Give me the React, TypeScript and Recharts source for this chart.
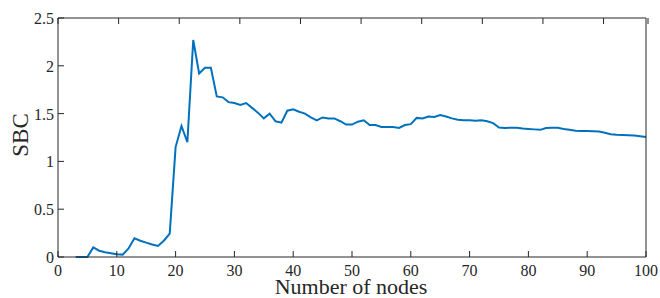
import { LineChart, Line, XAxis, YAxis } from 'recharts'

// number of nodes (x)
const nodes = [
  3, 4, 5, 6, 7, 8, 9, 10, 11, 12, 13, 14, 15, 16, 17, 18, 19, 20,
  21, 22, 23, 24, 25, 26, 27, 28, 29, 30, 31, 32, 33, 34, 35, 36, 37, 38, 39, 40,
  41, 42, 43, 44, 45, 46, 47, 48, 49, 50, 51, 52, 53, 54, 55, 56, 57, 58, 59, 60,
  61, 62, 63, 64, 65, 66, 67, 68, 69, 70, 71, 72, 73, 74, 75, 76, 77, 78, 79, 80,
  81, 82, 83, 84, 85, 86, 87, 88, 89, 90, 91, 92, 93, 94, 95, 96, 97, 98, 99, 100,
]

// SBC
const sbc = [
  0, 0, 0, 0.1, 0.066, 0.05, 0.04, 0.03, 0.025, 0.09, 0.195, 0.17, 0.15, 0.13, 0.115, 0.17, 0.245, 1.15,
  1.37, 1.2, 2.27, 1.92, 1.98, 1.98, 1.68, 1.67, 1.62, 1.61, 1.59, 1.61, 1.56, 1.51, 1.45, 1.5, 1.42, 1.405, 1.53, 1.545,
  1.52, 1.5, 1.46, 1.43, 1.46, 1.45, 1.45, 1.42, 1.385, 1.385, 1.415, 1.43, 1.38, 1.38, 1.36, 1.36, 1.36, 1.35, 1.38, 1.39,
  1.455, 1.45, 1.47, 1.465, 1.485, 1.47, 1.45, 1.435, 1.43, 1.43, 1.425, 1.43, 1.42, 1.4, 1.355, 1.35, 1.352, 1.353, 1.345, 1.34,
  1.335, 1.33, 1.35, 1.352, 1.353, 1.34, 1.33, 1.32, 1.318, 1.318, 1.315, 1.312, 1.3, 1.285, 1.278, 1.275, 1.273, 1.27, 1.262, 1.255,
]

const xTicks = [0, 10, 20, 30, 40, 50, 60, 70, 80, 90, 100]
const yTicks = [0, 0.5, 1, 1.5, 2, 2.5]

const data = nodes.map((n, i) => ({ n, sbc: sbc[i] }))

const AXIS = '#262626'
const LINE = '#0072BD'
const FONT = '"Liberation Serif", "Times New Roman", serif'

// MATLAB style: ticks point into the box
const BottomTick = ({ x, y, payload }: any) => (
  <g>
    <line x1={x} y1={y} x2={x} y2={y - 6} stroke={AXIS} />
    <text x={x} y={y + 19} textAnchor="middle" fontSize={16} fill={AXIS} fontFamily={FONT}>
      {payload.value}
    </text>
  </g>
)
const TopTick = ({ x, y }: any) => <line x1={x} y1={y} x2={x} y2={y + 6} stroke={AXIS} />
const LeftTick = ({ x, y, payload }: any) => (
  <g>
    <line x1={x} y1={y} x2={x + 6} y2={y} stroke={AXIS} />
    <text x={x - 4} y={y + 6} textAnchor="end" fontSize={16} fill={AXIS} fontFamily={FONT}>
      {payload.value}
    </text>
  </g>
)
const RightTick = ({ x, y }: any) => <line x1={x} y1={y} x2={x - 6} y2={y} stroke={AXIS} />

export default function App() {
  return (
    <div style={{ position: 'absolute', left: 0, top: 0, background: '#fff' }}>
      <LineChart width={660} height={298} data={data} margin={{ top: 0, right: 0, bottom: 0, left: 0 }}>
        <XAxis
          xAxisId="b"
          dataKey="n"
          type="number"
          domain={[0, 100]}
          ticks={xTicks}
          height={41}
          tickSize={0}
          tickMargin={0}
          tickLine={false}
          tick={<BottomTick />}
          stroke={AXIS}
          label={{
            content: () => (
              <text x={351} y={294} textAnchor="middle" fontSize={22} fill={AXIS} fontFamily={FONT}>
                Number of nodes
              </text>
            ),
          }}
        />
        <XAxis
          xAxisId="t"
          orientation="top"
          type="number"
          domain={[0, 100]}
          ticks={xTicks}
          height={18}
          tickSize={0}
          tickMargin={0}
          tickLine={false}
          tick={<TopTick />}
          stroke={AXIS}
        />
        <YAxis
          yAxisId="l"
          type="number"
          domain={[0, 2.5]}
          ticks={yTicks}
          width={58}
          tickSize={0}
          tickMargin={0}
          tickLine={false}
          tick={<LeftTick />}
          stroke={AXIS}
          label={{
            content: () => (
              <text
                x={0}
                y={0}
                transform="translate(28 135) rotate(-90)"
                textAnchor="middle"
                fontSize={23}
                fill={AXIS}
                fontFamily={FONT}
              >
                SBC
              </text>
            ),
          }}
        />
        <YAxis
          yAxisId="r"
          orientation="right"
          type="number"
          domain={[0, 2.5]}
          ticks={yTicks}
          width={14}
          tickSize={0}
          tickMargin={0}
          tickLine={false}
          tick={<RightTick />}
          stroke={AXIS}
        />
        <Line
          xAxisId="b"
          yAxisId="l"
          type="linear"
          dataKey="sbc"
          stroke={LINE}
          strokeWidth={2}
          dot={false}
          isAnimationActive={false}
        />
      </LineChart>
    </div>
  )
}
